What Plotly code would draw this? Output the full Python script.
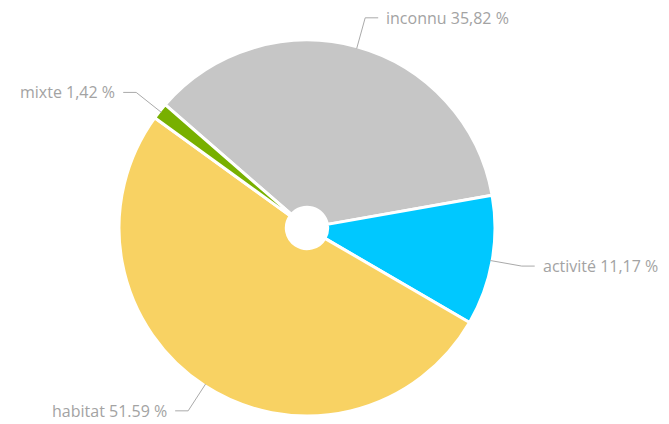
import math
import plotly.graph_objects as go

labels = ["inconnu", "activité", "habitat", "mixte"]
values = [35.82, 11.17, 51.59, 1.42]
label_texts = ["inconnu 35,82 %", "activité 11,17 %", "habitat 51.59 %", "mixte 1,42 %"]
colors = ["#c6c6c6", "#00c8ff", "#f8d263", "#78b000"]

# page body has an 8px margin: figure drawn at (8, 8)
W, H = 661, 416
CX, CY, R = 299, 220, 188
ROTATION = -49

fig = go.Figure(go.Pie(
    labels=labels, values=values, sort=False, direction="clockwise",
    rotation=ROTATION, hole=0.11, textinfo="none", hoverinfo="label+percent",
    marker=dict(colors=colors, line=dict(color="white", width=3)),
    domain=dict(x=[(CX - R) / W, (CX + R) / W], y=[1 - (CY + R) / H, 1 - (CY - R) / H]),
    showlegend=False,
))

total = sum(values)
shapes, annotations = [], []
acc = 0.0
for v, t in zip(values, label_texts):
    mid = math.radians(ROTATION + (acc + v / 2) / total * 360)
    acc += v
    sx, sy = math.sin(mid), -math.cos(mid)
    p0 = (CX + R * 0.99 * sx, CY + R * 0.99 * sy)
    p1 = (CX + R * 1.16 * sx, CY + R * 1.16 * sy)
    side = 1 if sx >= 0 else -1
    p2 = (p1[0] + side * 13, p1[1])
    for a, b in ((p0, p1), (p1, p2)):
        shapes.append(dict(type="line", xref="paper", yref="paper",
                           x0=a[0] / W, y0=1 - a[1] / H, x1=b[0] / W, y1=1 - b[1] / H,
                           line=dict(color="#aaaaaa", width=1)))
    annotations.append(dict(text=t, xref="paper", yref="paper",
                            x=(p2[0] + side * 6) / W, y=1 - p2[1] / H,
                            xanchor="left" if side > 0 else "right", yanchor="middle",
                            showarrow=False,
                            font=dict(family="Open Sans", size=16, color="#a3a3a3")))

fig.update_layout(width=W, height=H, margin=dict(l=0, r=0, t=0, b=0),
                  paper_bgcolor="white", plot_bgcolor="white",
                  shapes=shapes, annotations=annotations)
fig.write_html("out.html")
